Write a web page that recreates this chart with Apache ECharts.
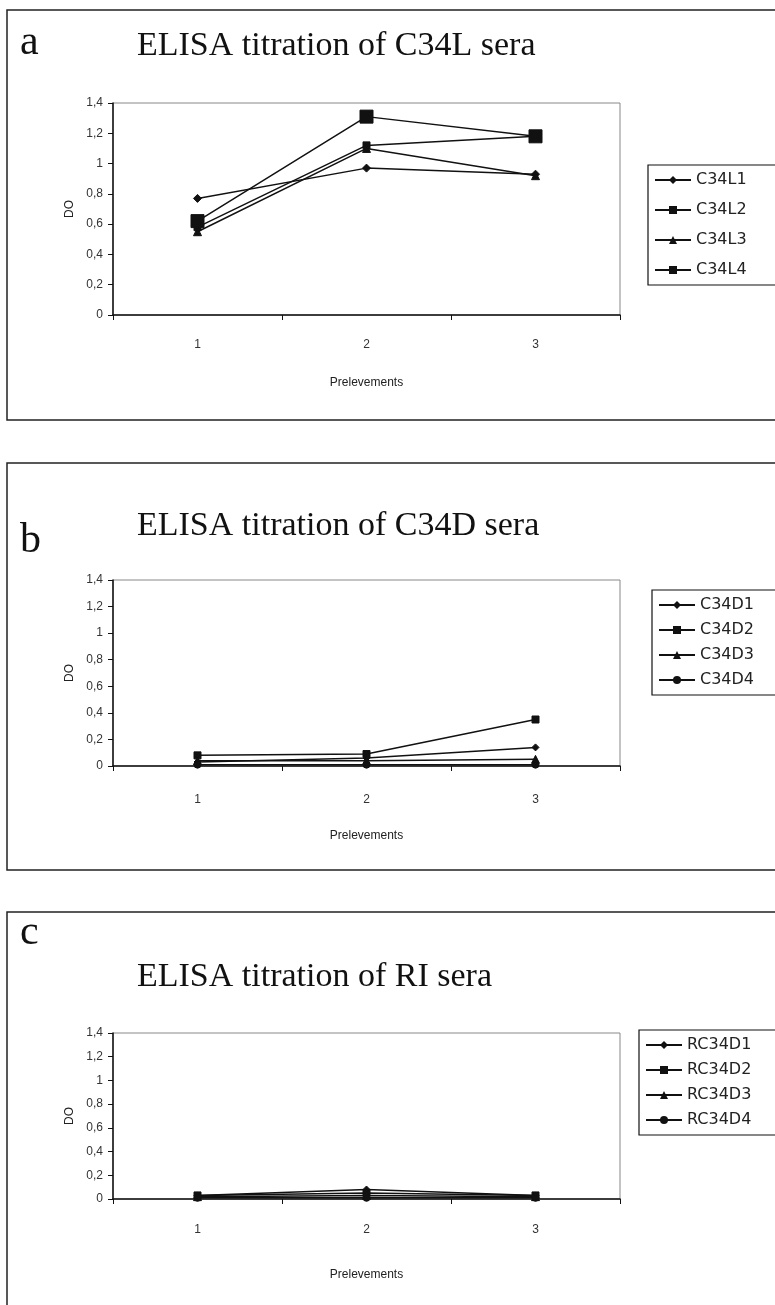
<!DOCTYPE html>
<html>
<head>
<meta charset="utf-8">
<script src="https://cdn.jsdelivr.net/npm/echarts@6/dist/echarts.min.js"></script>
<style>
html,body{margin:0;padding:0;background:#fff;}
#chart{width:775px;height:1305px;}
</style>
</head>
<body>
<div id="chart"></div>
<script>
// ---- data ----
const categories = ['1', '2', '3'];
const yTicks = [0, 0.2, 0.4, 0.6, 0.8, 1, 1.2, 1.4];

const panelTitles = ['ELISA titration of C34L sera', 'ELISA titration of C34D sera', 'ELISA titration of RI sera'];
const panelLetters = ['a', 'b', 'c'];

const namesA = ['C34L1', 'C34L2', 'C34L3', 'C34L4'];
const C34L1 = [0.77, 0.97, 0.93];
const C34L2 = [0.58, 1.12, 1.18];
const C34L3 = [0.55, 1.10, 0.92];
const C34L4 = [0.62, 1.31, 1.18];

const namesB = ['C34D1', 'C34D2', 'C34D3', 'C34D4'];
const C34D1 = [0.03, 0.06, 0.14];
const C34D2 = [0.08, 0.09, 0.35];
const C34D3 = [0.04, 0.04, 0.05];
const C34D4 = [0.01, 0.01, 0.01];

const namesC = ['RC34D1', 'RC34D2', 'RC34D3', 'RC34D4'];
const RC34D1 = [0.03, 0.08, 0.03];
const RC34D2 = [0.03, 0.05, 0.03];
const RC34D3 = [0.02, 0.03, 0.02];
const RC34D4 = [0.01, 0.01, 0.01];

// ---- layout ----
const chart = echarts.init(document.getElementById('chart'));
const panels = [
  {box: [7, 10, 800, 410], grid: {top: 103, height: 212}, titleTop: 24, letterY: 22,
   legendLeft: 648, legendTop: 165, legendGap: 14, labelMargin: 24, nameGap: 62,
   names: namesA, data: [C34L1, C34L2, C34L3, C34L4], symbols: ['diamond', 'rect', 'triangle', 'rect'], sizes: [8, 7, 8, 13]},
  {box: [7, 463, 800, 407], grid: {top: 580, height: 186}, titleTop: 504, letterY: 520,
   legendLeft: 652, legendTop: 590, legendGap: 9, labelMargin: 28, nameGap: 64,
   names: namesB, data: [C34D1, C34D2, C34D3, C34D4], symbols: ['diamond', 'rect', 'triangle', 'circle'], sizes: [7, 7, 8, 7]},
  {box: [7, 912, 800, 420], grid: {top: 1033, height: 166}, titleTop: 955, letterY: 912,
   legendLeft: 639, legendTop: 1030, legendGap: 9, labelMargin: 25, nameGap: 70,
   names: namesC, data: [RC34D1, RC34D2, RC34D3, RC34D4], symbols: ['diamond', 'rect', 'triangle', 'circle'], sizes: [7, 7, 8, 7]}
];

const fontSans = 'Liberation Sans, Arial, sans-serif';
const option = {
  backgroundColor: '#fff',
  animation: false,
  title: [], grid: [], xAxis: [], yAxis: [], legend: [], series: [], graphic: []
};

panels.forEach((p, i) => {
  option.graphic.push({type: 'rect', shape: {x: p.box[0], y: p.box[1], width: p.box[2], height: p.box[3]},
    style: {fill: 'none', stroke: '#222', lineWidth: 1.5}, z: -1});
  option.graphic.push({type: 'text', left: 20, top: p.letterY,
    style: {text: panelLetters[i], font: '42px "Liberation Serif", serif', fill: '#111'}});
  option.title.push({text: panelTitles[i], left: 132, top: p.titleTop,
    textStyle: {fontFamily: 'Liberation Serif, serif', fontSize: 34, fontWeight: 'normal', color: '#111'}});
  option.grid.push({left: 113, width: 507, top: p.grid.top, height: p.grid.height, show: true,
    borderColor: '#888', borderWidth: 1, backgroundColor: '#fff'});
  option.xAxis.push({type: 'category', gridIndex: i, data: categories, boundaryGap: true,
    name: 'Prelevements', nameLocation: 'middle', nameGap: p.nameGap,
    nameTextStyle: {fontFamily: fontSans, fontSize: 12, color: '#222'},
    axisLine: {lineStyle: {color: '#111', width: 1.5}},
    axisTick: {show: true, length: 5, lineStyle: {color: '#111'}},
    axisLabel: {fontFamily: fontSans, fontSize: 12, color: '#333', margin: p.labelMargin}});
  option.yAxis.push({type: 'value', gridIndex: i, min: 0, max: 1.4, interval: 0.2,
    name: 'DO', nameLocation: 'middle', nameGap: 34, nameRotate: 90,
    nameTextStyle: {fontFamily: fontSans, fontSize: 12, color: '#222'},
    axisLine: {show: true, lineStyle: {color: '#111', width: 1.5}},
    axisTick: {show: true, length: 5, lineStyle: {color: '#111'}},
    splitLine: {show: false},
    axisLabel: {fontFamily: fontSans, fontSize: 12, color: '#333', margin: 10,
      formatter: v => String(Math.round(v * 10) / 10).replace('.', ',')}});
  option.legend.push({orient: 'vertical', left: p.legendLeft, top: p.legendTop,
    data: p.names, itemWidth: 36, itemHeight: 10, itemGap: p.legendGap,
    padding: [7, 60, 7, 6], borderColor: '#111', borderWidth: 1.2, backgroundColor: '#fff',
    textStyle: {fontFamily: 'DejaVu Sans, sans-serif', fontSize: 16, color: '#222'}, selectedMode: false});
  p.names.forEach((n, k) => {
    option.series.push({type: 'line', name: n, xAxisIndex: i, yAxisIndex: i, data: p.data[k],
      symbol: p.symbols[k], symbolSize: p.sizes[k], showSymbol: true,
      lineStyle: {color: '#111', width: 1.5}, itemStyle: {color: '#111', borderColor: '#111'}});
  });
});

chart.setOption(option);
</script>
</body>
</html>
